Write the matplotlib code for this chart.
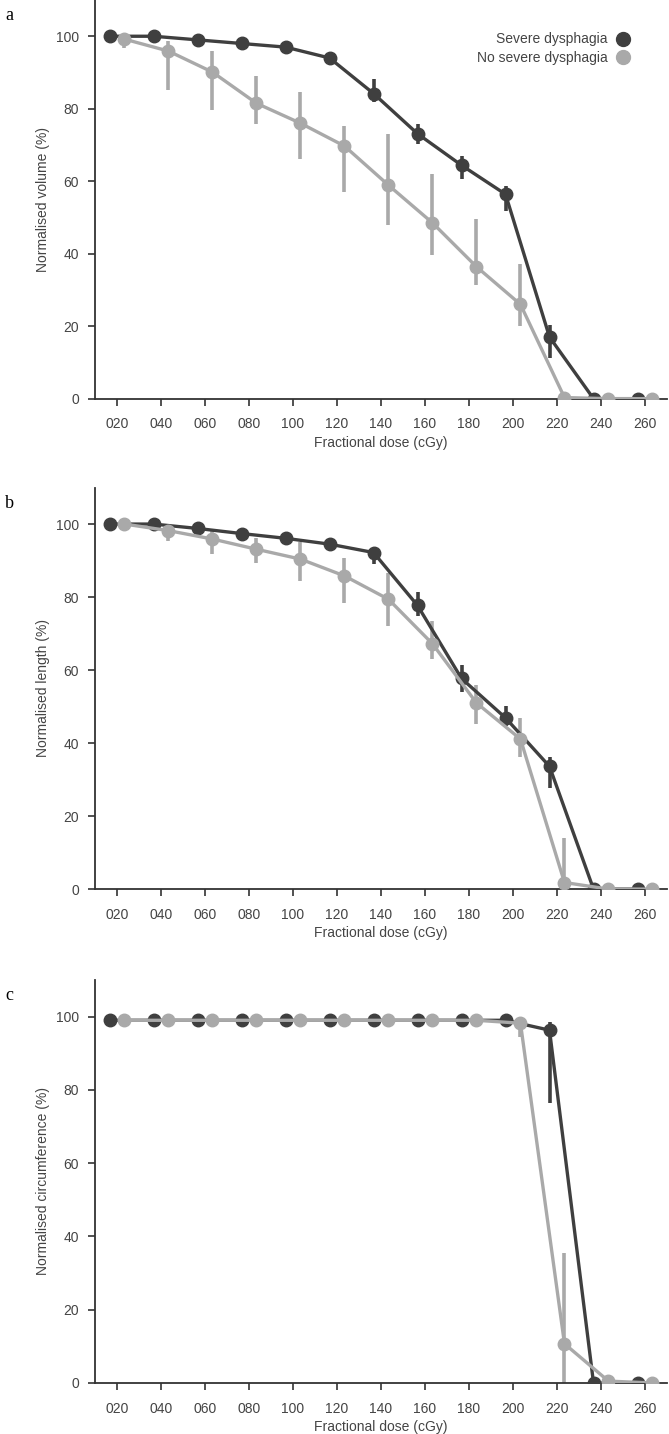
import numpy as np
import matplotlib.pyplot as plt
from matplotlib.lines import Line2D

plt.rcParams['font.family'] = ['Liberation Sans', 'DejaVu Sans']

# категорії дози
doses = ['020', '040', '060', '080', '100', '120', '140', '160', '180', '200', '220', '240', '260']
series = ['Severe dysphagia', 'No severe dysphagia']

# a - об'єм
vol_sev = [100, 100, 99, 98, 97, 94, 84.2, 73.1, 64.4, 56.4, 17.0, 0, 0]
vol_sev_lo = [100, 100, 99, 98, 96.5, 92, 81.8, 70.2, 60.5, 51.7, 11.2, 0, 0]
vol_sev_hi = [100, 100, 99, 98, 97.5, 95.5, 88.1, 75.7, 66.9, 58.6, 20.4, 0, 0]
vol_no = [99.2, 95.9, 90.1, 81.5, 76.0, 69.7, 58.9, 48.5, 36.4, 26.0, 0.3, 0, 0]
vol_no_lo = [96.7, 85.2, 79.6, 75.7, 66.2, 57.0, 47.8, 39.5, 31.3, 20.0, 0, 0, 0]
vol_no_hi = [100, 98.7, 95.9, 88.9, 84.6, 75.2, 72.9, 61.9, 49.7, 37.2, 0.6, 0, 0]

# b - довжина
len_sev = [100, 100, 98.8, 97.4, 96.1, 94.5, 92.2, 77.7, 57.7, 46.9, 33.6, 0, 0]
len_sev_lo = [100, 100, 98.3, 96.9, 95.6, 93.5, 89.0, 74.8, 53.9, 44.6, 27.7, 0, 0]
len_sev_hi = [100, 100, 99.3, 97.9, 96.6, 95.3, 93.6, 81.5, 61.5, 50.1, 36.3, 0, 0]
len_no = [100, 98.2, 95.9, 93.1, 90.4, 85.8, 79.4, 67.2, 51.0, 41.1, 1.8, 0, 0]
len_no_lo = [99, 95.4, 91.8, 89.3, 84.4, 78.5, 72.1, 62.9, 45.1, 36.3, 0, 0, 0]
len_no_hi = [100, 100, 98.6, 96.3, 95.0, 90.8, 86.7, 73.4, 56.0, 46.9, 13.9, 0, 0]

# c - окружність
circ_sev = [99, 99, 99, 99, 99, 99, 99, 99, 99, 99, 96.3, 0, 0]
circ_sev_lo = [99, 99, 99, 99, 99, 99, 99, 99, 99, 99, 76.4, 0, 0]
circ_sev_hi = [99, 99, 99, 99, 99, 99, 99, 99, 99, 99, 98.5, 0, 0]
circ_no = [99, 99, 99, 99, 99, 99, 99, 99, 99, 98.2, 10.7, 0.5, 0]
circ_no_lo = [99, 99, 99, 99, 99, 99, 99, 99, 99, 94.5, 0, 0, 0]
circ_no_hi = [99, 99, 99, 99, 99, 99, 99, 99, 99, 99, 35.4, 1, 0]

panels = [
    ('a', 'Normalised volume (%)',
     [(vol_sev, vol_sev_lo, vol_sev_hi), (vol_no, vol_no_lo, vol_no_hi)]),
    ('b', 'Normalised length (%)',
     [(len_sev, len_sev_lo, len_sev_hi), (len_no, len_no_lo, len_no_hi)]),
    ('c', 'Normalised circumference (%)',
     [(circ_sev, circ_sev_lo, circ_sev_hi), (circ_no, circ_no_lo, circ_no_hi)]),
]

colors = ['#3f3f3f', '#a9a9a9']
offsets = [-0.17, 0.17]
# [left, bottom, width, height] у частках фігури
boxes = [[0.142, 0.722, 0.855, 0.278],
         [0.142, 0.380, 0.855, 0.280],
         [0.142, 0.0356, 0.855, 0.281]]
label_y = [0.995, 0.655, 0.312]

fig = plt.figure(figsize=(6.69, 14.34), dpi=100)
x = np.arange(len(doses))

for (letter, ylab, data), box, ly in zip(panels, boxes, label_y):
    ax = fig.add_axes(box)
    for (m, lo, hi), c, off in zip(data, colors, offsets):
        xs = x + off
        ax.vlines(xs, lo, hi, color=c, lw=2.6, zorder=2)
        ax.plot(xs, m, color=c, lw=2.4, marker='o', ms=9, zorder=3)
    ax.set_xlim(-0.5, 12.5)
    ax.set_ylim(0, 110)
    ax.set_yticks([0, 20, 40, 60, 80, 100])
    ax.set_xticks(x)
    ax.set_xticklabels(doses)
    ax.set_xlabel('Fractional dose (cGy)', fontsize=10, color='#444444', labelpad=3)
    ax.set_ylabel(ylab, fontsize=10, color='#444444', labelpad=4)
    for s in ['top', 'right']:
        ax.spines[s].set_visible(False)
    for s in ['left', 'bottom']:
        ax.spines[s].set_color('#333333')
        ax.spines[s].set_linewidth(1.3)
    ax.tick_params(axis='both', direction='out', length=5, width=1.2,
                   colors='#333333', labelsize=10, labelcolor='#444444')
    ax.tick_params(axis='x', pad=8.5)
    ax.tick_params(axis='y', pad=6.5)
    fig.text(0.008, ly, letter, fontsize=13, family='Liberation Serif',
             va='top', ha='left')
    if letter == 'a':
        handles = [Line2D([], [], ls='', marker='o', ms=10, color=c) for c in colors]
        ax.legend(handles, series, loc='upper right', frameon=False,
                  markerfirst=False, fontsize=10, handletextpad=0.6,
                  handlelength=1.0, labelspacing=0.35,
                  bbox_to_anchor=(0.957, 0.95), labelcolor='#444444')

fig.savefig('out.png', dpi=100)
